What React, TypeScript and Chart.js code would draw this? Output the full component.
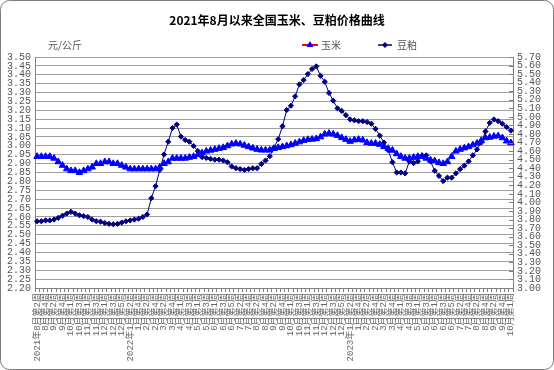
import React, { useEffect, useRef } from 'react';
import { Chart, registerables } from 'chart.js';
Chart.register(...registerables);

const TITLE = '2021年8月以来全国玉米、豆粕价格曲线';
const UNIT = '元/公斤';
const SERIES_NAMES = ['玉米', '豆粕'];

// calendar of weekly categories: [year, month, first week, last week]
const MONTH_WEEKS: number[][] = [
  [2021, 8, 2, 4], [2021, 9, 1, 5], [2021, 10, 1, 4], [2021, 11, 1, 4], [2021, 12, 1, 5],
  [2022, 1, 1, 4], [2022, 2, 1, 4], [2022, 3, 1, 5], [2022, 4, 1, 4], [2022, 5, 1, 4], [2022, 6, 1, 5],
  [2022, 7, 1, 4], [2022, 8, 1, 4], [2022, 9, 1, 5], [2022, 10, 1, 4], [2022, 11, 1, 4], [2022, 12, 1, 5],
  [2023, 1, 1, 4], [2023, 2, 1, 4], [2023, 3, 1, 5], [2023, 4, 1, 4], [2023, 5, 1, 4], [2023, 6, 1, 5],
  [2023, 7, 1, 4], [2023, 8, 1, 4], [2023, 9, 1, 5], [2023, 10, 1, 1],
];

// 玉米 (left axis, 元/公斤)
const CORN = [
  2.94, 2.94, 2.94, 2.94, 2.93, 2.91, 2.89, 2.87, 2.86, 2.86,
  2.85, 2.86, 2.87, 2.88, 2.90, 2.90, 2.91, 2.91, 2.90, 2.90,
  2.89, 2.88, 2.87, 2.87, 2.87, 2.87, 2.87, 2.87, 2.87, 2.88,
  2.90, 2.91, 2.93, 2.93, 2.93, 2.93, 2.935, 2.94, 2.95, 2.96,
  2.97, 2.975, 2.98, 2.985, 2.99, 3.00, 3.01, 3.014, 3.01, 3.003,
  2.995, 2.987, 2.98, 2.976, 2.976, 2.976, 2.985, 2.99, 2.995, 3.00,
  3.006, 3.014, 3.022, 3.03, 3.035, 3.037, 3.04, 3.05, 3.066, 3.07,
  3.066, 3.058, 3.046, 3.036, 3.025, 3.033, 3.036, 3.032, 3.018, 3.014,
  3.014, 3.008, 2.995, 2.985, 2.975, 2.955, 2.94, 2.93, 2.93, 2.935,
  2.94, 2.94, 2.93, 2.92, 2.915, 2.905, 2.90, 2.91, 2.94, 2.97,
  2.98, 2.988, 2.995, 3.005, 3.015, 3.03, 3.045, 3.048, 3.054, 3.056,
  3.045, 3.027, 3.017,
];

// 豆粕 (right axis, 元/公斤)
const SOY = [
  3.78, 3.78, 3.79, 3.79, 3.80, 3.82, 3.845, 3.87, 3.89, 3.87,
  3.85, 3.84, 3.83, 3.80, 3.78, 3.775, 3.76, 3.75, 3.745, 3.75,
  3.765, 3.78, 3.79, 3.80, 3.81, 3.83, 3.86, 4.05, 4.19, 4.38,
  4.56, 4.71, 4.87, 4.91, 4.77, 4.73, 4.71, 4.66, 4.60, 4.53,
  4.52, 4.51, 4.50, 4.50, 4.49, 4.47, 4.42, 4.40, 4.39, 4.38,
  4.39, 4.40, 4.40, 4.45, 4.49, 4.54, 4.64, 4.74, 4.89, 5.08,
  5.13, 5.24, 5.38, 5.43, 5.50, 5.56, 5.59, 5.48, 5.41, 5.28,
  5.19, 5.10, 5.07, 5.02, 4.97, 4.96, 4.95, 4.95, 4.94, 4.92,
  4.86, 4.78, 4.70, 4.61, 4.47, 4.35, 4.35, 4.34, 4.48, 4.46,
  4.48, 4.55, 4.55, 4.48, 4.37, 4.31, 4.25, 4.29, 4.29, 4.34,
  4.39, 4.43, 4.48, 4.55, 4.62, 4.70, 4.83, 4.93, 4.97, 4.95,
  4.92, 4.88, 4.84,
];

const LEFT_RANGE = [2.2, 3.5, 0.05];
const RIGHT_RANGE = [3.0, 5.7, 0.1];

const YEARS: number[] = [];
const LABELS: string[] = [];
MONTH_WEEKS.forEach(([y, m, w0, w1]) => {
  for (let w = w0; w <= w1; w++) {
    YEARS.push(y);
    LABELS.push(`${m}月第${w}周`);
  }
});

const NUM_FONT = "'Liberation Mono', 'Noto Sans CJK SC', monospace";
const CJK_FONT = "'Noto Sans CJK SC', sans-serif";
const TICK_COLOR = '#555555';
const W = 554;
const H = 370;

const decor = {
  id: 'decor',
  beforeDraw(chart: any) {
    const ctx = chart.ctx as CanvasRenderingContext2D;
    ctx.save();
    ctx.fillStyle = '#ffffff';
    ctx.fillRect(0, 0, W, H);
    ctx.strokeStyle = '#7f7f7f';
    ctx.lineWidth = 1;
    ctx.beginPath();
    (ctx as any).roundRect(0.5, 0.5, W - 1, H - 1, 9);
    ctx.stroke();

    ctx.fillStyle = '#000000';
    ctx.font = `bold 12px ${CJK_FONT}`;
    ctx.textAlign = 'center';
    ctx.textBaseline = 'middle';
    ctx.fillText(TITLE, 277, 20);

    ctx.fillStyle = TICK_COLOR;
    ctx.font = `10px ${CJK_FONT}`;
    ctx.textAlign = 'left';
    ctx.fillText(UNIT, 48, 45);

    // legend: 玉米
    ctx.strokeStyle = '#ff0000';
    ctx.lineWidth = 2;
    ctx.beginPath();
    ctx.moveTo(302, 45);
    ctx.lineTo(318, 45);
    ctx.stroke();
    ctx.fillStyle = '#0000ff';
    ctx.beginPath();
    ctx.moveTo(310, 41);
    ctx.lineTo(313.5, 47);
    ctx.lineTo(306.5, 47);
    ctx.closePath();
    ctx.fill();
    ctx.fillStyle = TICK_COLOR;
    ctx.fillText(SERIES_NAMES[0], 321, 45);

    // legend: 豆粕
    ctx.strokeStyle = '#000080';
    ctx.lineWidth = 1.5;
    ctx.beginPath();
    ctx.moveTo(378, 45);
    ctx.lineTo(392, 45);
    ctx.stroke();
    ctx.fillStyle = '#000080';
    ctx.beginPath();
    ctx.moveTo(385, 42);
    ctx.lineTo(388, 45);
    ctx.lineTo(385, 48);
    ctx.lineTo(382, 45);
    ctx.closePath();
    ctx.fill();
    ctx.fillStyle = TICK_COLOR;
    ctx.fillText(SERIES_NAMES[1], 397, 45);
    ctx.restore();
  },
  afterDraw(chart: any) {
    const ctx = chart.ctx as CanvasRenderingContext2D;
    const s = chart.scales.y1;
    const x = chart.chartArea.right;
    ctx.save();
    ctx.strokeStyle = '#808080';
    ctx.lineWidth = 1;
    ctx.beginPath();
    s.ticks.forEach((t: any) => {
      const y = Math.round(s.getPixelForValue(t.value)) + 0.5;
      ctx.moveTo(x - 4, y);
      ctx.lineTo(x, y);
    });
    ctx.stroke();
    ctx.restore();
  },
};

export default function App() {
  const ref = useRef<HTMLCanvasElement>(null);
  useEffect(() => {
    document.body.style.margin = '0';
    const chart = new Chart(ref.current as HTMLCanvasElement, {
      type: 'line',
      data: {
        labels: LABELS,
        datasets: [
          {
            label: SERIES_NAMES[0],
            data: CORN,
            yAxisID: 'y',
            borderColor: '#ff0000',
            borderWidth: 1,
            pointStyle: 'triangle',
            pointRadius: 3.8,
            pointBackgroundColor: '#0000ff',
            pointBorderColor: '#0000ff',
            pointBorderWidth: 1,
            tension: 0,
            fill: false,
          },
          {
            label: SERIES_NAMES[1],
            data: SOY,
            yAxisID: 'y1',
            borderColor: '#000080',
            borderWidth: 1,
            pointStyle: 'rectRot',
            pointRadius: 2.6,
            pointBackgroundColor: '#000080',
            pointBorderColor: '#000080',
            pointBorderWidth: 1,
            tension: 0,
            fill: false,
          },
        ],
      },
      options: {
        responsive: false,
        devicePixelRatio: 1,
        animation: false,
        layout: { padding: { top: 57, left: 0, right: 0, bottom: 0 } },
        plugins: {
          legend: { display: false },
          title: { display: false },
          tooltip: { enabled: false },
        },
        scales: {
          x: {
            offset: true,
            afterFit: (s: any) => { s.height = 82; },
            grid: {
              offset: true,
              drawOnChartArea: false,
              drawTicks: true,
              tickLength: 4,
              color: '#808080',
            },
            border: { display: true, color: '#808080' },
            ticks: {
              autoSkip: false,
              maxRotation: 90,
              minRotation: 90,
              padding: 1,
              color: '#666666',
              font: { family: NUM_FONT, size: 9 },
              callback: (v: any, i: number) => {
                if (i % 2 !== 0) return '';
                const prefix = i === 0 || YEARS[i] !== YEARS[i - 2] ? `${YEARS[i]}年` : '';
                return prefix + LABELS[i];
              },
            },
          },
          y: {
            position: 'left',
            min: LEFT_RANGE[0],
            max: LEFT_RANGE[1],
            afterFit: (s: any) => { s.width = 35; },
            grid: { color: '#a0a0a0', drawTicks: false, lineWidth: 1 },
            border: { display: true, color: '#808080' },
            ticks: {
              stepSize: LEFT_RANGE[2],
              autoSkip: false,
              maxTicksLimit: 100,
              padding: 4,
              color: TICK_COLOR,
              font: { family: NUM_FONT, size: 10 },
              callback: (v: any) => Number(v).toFixed(2),
            },
          },
          y1: {
            position: 'right',
            min: RIGHT_RANGE[0],
            max: RIGHT_RANGE[1],
            afterFit: (s: any) => { s.width = 41; },
            grid: { drawOnChartArea: false, drawTicks: false },
            border: { display: true, color: '#808080' },
            ticks: {
              stepSize: RIGHT_RANGE[2],
              autoSkip: false,
              maxTicksLimit: 100,
              padding: 4,
              color: TICK_COLOR,
              font: { family: NUM_FONT, size: 10 },
              callback: (v: any) => Number(v).toFixed(2),
            },
          },
        },
      },
      plugins: [decor],
    } as any);
    return () => chart.destroy();
  }, []);
  return (
    <div style={{ position: 'absolute', left: 0, top: 0, width: W, height: H }}>
      <canvas ref={ref} width={W} height={H} style={{ display: 'block', width: W, height: H }} />
    </div>
  );
}
